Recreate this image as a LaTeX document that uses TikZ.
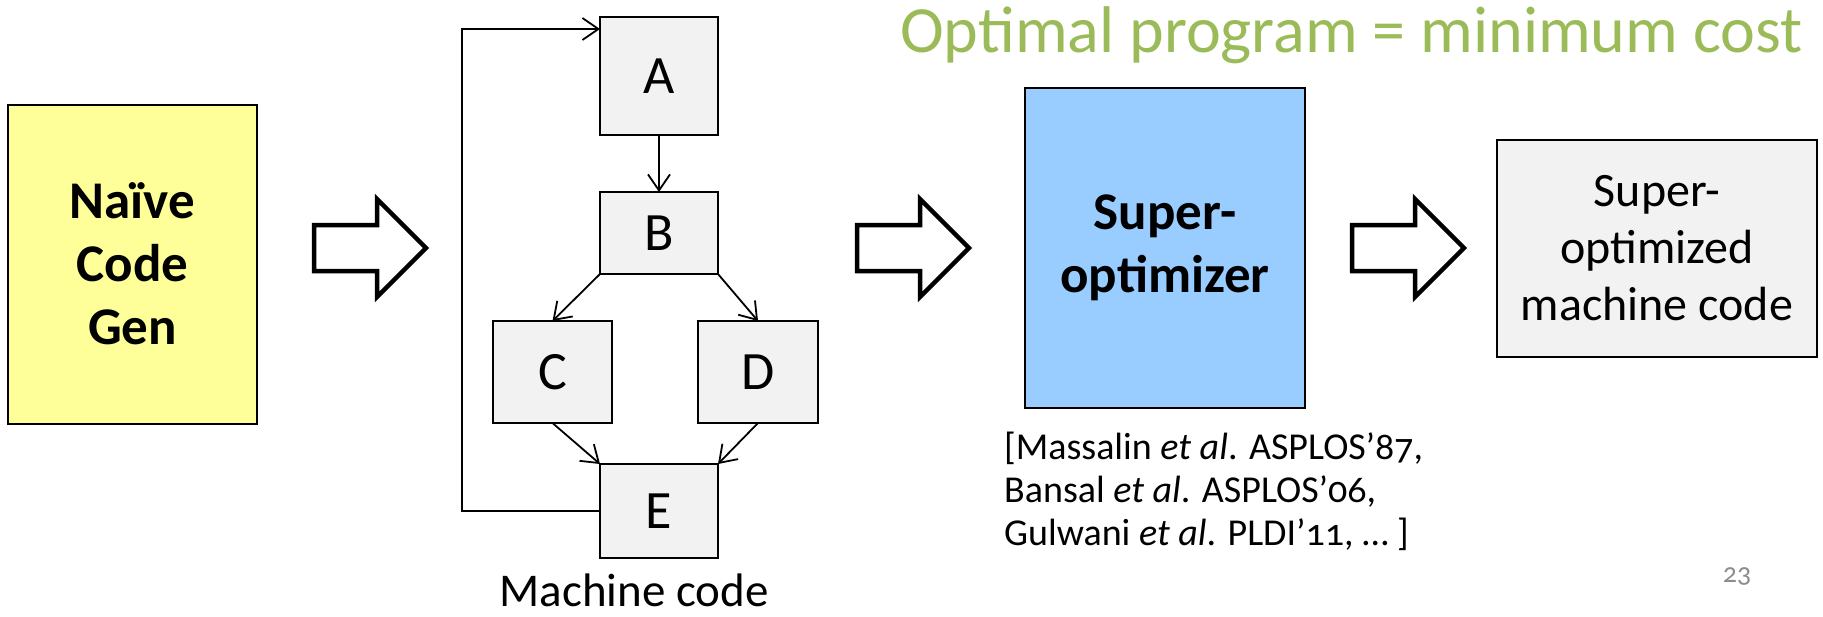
\documentclass[tikz,border=0pt]{standalone}
\usepackage{fontspec}
\setmainfont{Carlito}
\usetikzlibrary{arrows.meta,calc}
\definecolor{boxyellow}{HTML}{FFFF99}
\definecolor{boxblue}{HTML}{99CCFF}
\definecolor{boxgray}{HTML}{F2F2F2}
\definecolor{titlegreen}{HTML}{9BBB59}
\definecolor{pagegray}{HTML}{8C8C8C}
\newcommand\blockarrow[1]{%
  \draw[blockarr] (#1) ++(0,-23) -- ++(63,0) -- ++(0,-26) -- ++(49,49)
    -- ++(-49,49) -- ++(0,-26) -- ++(-63,0) -- cycle;}
\begin{document}
\begin{tikzpicture}[x=1pt,y=-1pt,
  bigbox/.style={draw=black,line width=2pt,rectangle,inner sep=0pt,outer sep=0pt,
    align=center,font=\fontsize{53}{63}\selectfont\bfseries},
  cfgbox/.style={draw=black,line width=2pt,fill=boxgray,rectangle,inner sep=0pt,
    outer sep=0pt,minimum width=118pt,font=\fontsize{54}{60}\selectfont},
  flow/.style={line width=1.8pt,-{Straight Barb[length=16pt,width=22pt,line width=1.8pt]}},
  blockarr/.style={draw=black,fill=white,line width=4.5pt,line join=miter}]
\useasboundingbox (0,0) rectangle (1823,616);

% title
\node[anchor=base west,inner sep=0pt,text=titlegreen,font=\fontsize{66}{70}\selectfont]
  (title) at (900,52) {Optimal program = minimum cost};

% naive code gen
\node[bigbox,fill=boxyellow,minimum width=249pt,minimum height=319pt]
  (naive) at (132.5,264) {Naïve\\Code\\Gen};

% block arrows
\coordinate (ar1) at (314,248);
\coordinate (ar2) at (857,248);
\coordinate (ar3) at (1352,248);
\blockarrow{ar1}
\blockarrow{ar2}
\blockarrow{ar3}

% CFG
\node[cfgbox,minimum height=118pt] (A) at (659,76) {A};
\node[cfgbox,minimum height=82pt] (B) at (659,233) {B};
\node[cfgbox,minimum width=119pt,minimum height=102pt] (C) at (552.5,372) {C};
\node[cfgbox,minimum width=120pt,minimum height=102pt] (D) at (758,372) {D};
\node[cfgbox,minimum height=94pt] (E) at (659,511) {E};
\coordinate (lt) at (462,29);
\coordinate (aentry) at ($(A.north west)+(0,12)$);
\draw[flow] (A.south) -- (B.north);
\draw[flow] (B.south west) -- (C.north);
\draw[flow] (B.south east) -- (D.north);
\draw[flow] (C.south) -- (E.north west);
\draw[flow] (D.south) -- (E.north east);
\draw[flow] (E.west) -| (lt) -- (aentry);
\node[anchor=base,inner sep=0pt,font=\fontsize{47}{50}\selectfont]
  (mc) at (634,606) {Machine code};

% superoptimizer
\node[bigbox,fill=boxblue,minimum width=280pt,minimum height=320pt]
  (sopt) at (1165,248) {Super-\\optimizer};

% result
\node[draw=black,line width=2pt,fill=boxgray,inner sep=0pt,outer sep=0pt,
  minimum width=320pt,minimum height=217pt,align=center,
  font=\fontsize{48}{57}\selectfont]
  (res) at (1657,248.5) {Super-\\optimized\\machine code};

% citation
\node[anchor=north west,inner sep=0pt,align=left,
  font=\fontsize{38}{43}\selectfont\addfontfeatures{Numbers=OldStyle}]
  (cite) at (1004,432) {[Massalin \textit{et al}. ASPLOS’87,\\
  Bansal \textit{et al}. ASPLOS’06,\\
  Gulwani \textit{et al}. PLDI’11, … ]};

% page number
\node[anchor=base,inner sep=0pt,text=pagegray,
  font=\fontsize{28}{30}\selectfont\addfontfeatures{Numbers=OldStyle}]
  (page) at (1737,582) {23};
\end{tikzpicture}
\end{document}
